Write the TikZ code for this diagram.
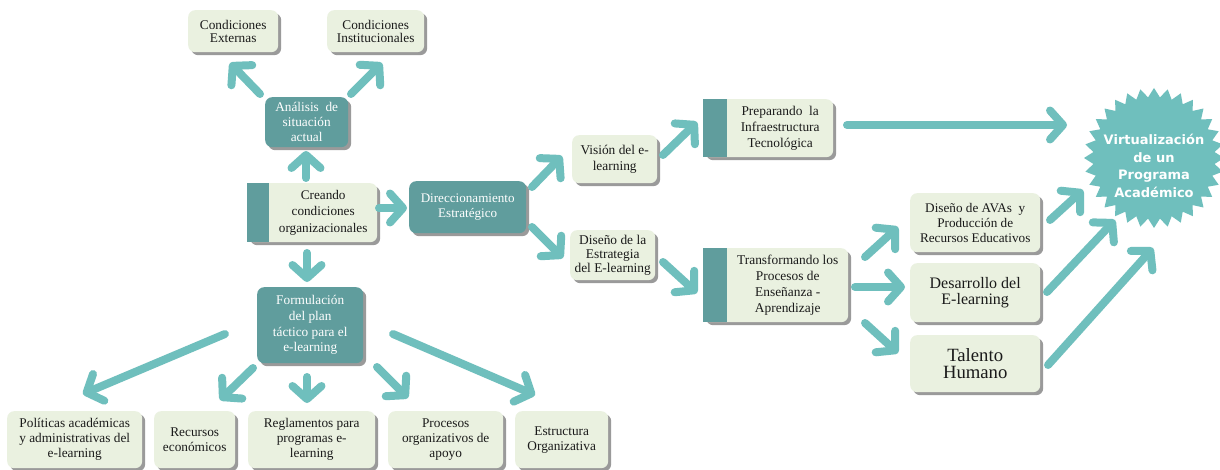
\documentclass[tikz,border=0pt]{standalone}
\usepackage{fontspec}
\setmainfont{Liberation Serif}
\newfontfamily\starfont{DejaVu Sans}
\usetikzlibrary{arrows.meta,shapes.geometric,shadows}
\definecolor{lightbox}{HTML}{EAF1E0}
\definecolor{darkbox}{HTML}{609D9D}
\definecolor{arrowc}{HTML}{6FBFBD}
\definecolor{shadowc}{HTML}{9A9A9A}
\definecolor{txtc}{HTML}{1A1A1A}
\begin{document}
\begin{tikzpicture}[x=1pt,y=-1pt,
  box/.style={rounded corners=7pt, anchor=north west, inner sep=0pt, align=center,
    drop shadow={shadow xshift=3pt, shadow yshift=-3pt, fill=shadowc, opacity=1}},
  lbox/.style={box, fill=lightbox, text=txtc},
  dbox/.style={box, fill=darkbox, text=white},
  bar/.style={fill=darkbox},
  ttext/.style={align=center, text=txtc, inner sep=0pt},
  arr/.style={draw=arrowc, line width=8pt, line cap=round,
    -{Straight Barb[round,length=13pt,width=29pt]}},
  fa/.style={font=\fontsize{13.3}{12.8}\selectfont},
  fb/.style={font=\fontsize{13.3}{15}\selectfont},
  fc/.style={font=\fontsize{13.4}{16}\selectfont},
  fd/.style={font=\fontsize{13.4}{14}\selectfont}
]
\useasboundingbox[fill=white] (0,0) rectangle (1220,470);

% top boxes
\node[lbox,fa,minimum width=90,minimum height=42] (cext) at (188,10) {Condiciones\\Externas};
\node[lbox,fa,minimum width=97,minimum height=42] (cinst) at (327,10) {Condiciones\\Institucionales};
\node[dbox,fb,minimum width=83,minimum height=50] (ana) at (265,97) {Análisis~ de\\situación\\actual};

% creando (split)
\node[lbox,minimum width=130,minimum height=59] (cre) at (247,183) {};
\fill[bar] (cre.north west) rectangle ([xshift=22pt]cre.south west);
\node[ttext,font=\fontsize{13.2}{16.5}\selectfont] (creT) at ([xshift=11pt]cre.center) {Creando\\condiciones\\organizacionales};

\node[dbox,font=\fontsize{13.1}{15}\selectfont,minimum width=117,minimum height=52] (dir) at (409,181) {Direccionamiento\\Estratégico};
\node[dbox,font=\fontsize{13.3}{15.7}\selectfont,minimum width=106,minimum height=76] (form) at (257,287) {Formulación\\del plan\\táctico para el\\e-learning};

\node[lbox,fc,minimum width=85,minimum height=48] (vis) at (572,135) {Visión del e-\\learning};
\node[lbox,fd,minimum width=85,minimum height=50] (dis) at (570,230) {Diseño de la\\Estrategia\\del E-learning};

% preparando (split)
\node[lbox,minimum width=130,minimum height=58] (prep) at (703,99) {};
\fill[bar] (prep.north west) rectangle ([xshift=24pt]prep.south west);
\node[ttext,fc] (prepT) at ([xshift=12pt]prep.center) {Preparando~ la\\Infraestructura\\Tecnológica};

% transformando (split)
\node[lbox,minimum width=145,minimum height=74] (trans) at (703,248) {};
\fill[bar] (trans.north west) rectangle ([xshift=24pt]trans.south west);
\node[ttext,fc] (transT) at ([xshift=12pt]trans.center) {Transformando los\\Procesos de\\Enseñanza -\\Aprendizaje};

\node[lbox,font=\fontsize{13.2}{15}\selectfont,minimum width=130,minimum height=59] (avas) at (910,193) {Diseño de AVAs~ y\\Producción de\\Recursos Educativos};
\node[lbox,font=\fontsize{16}{15.5}\selectfont,minimum width=130,minimum height=59] (desa) at (910,263) {Desarrollo del\\E-learning};
\node[lbox,font=\fontsize{18.7}{17}\selectfont,minimum width=130,minimum height=57] (tal) at (910,335) {Talento\\Humano};

% star
\node[star, star points=32, star point ratio=1.15, minimum size=140pt, inner sep=0pt, fill=arrowc] (vir) at (1154,158) {};
\node[align=center, text=white, inner sep=0pt, font=\starfont\bfseries\fontsize{13}{17.5}\selectfont] (virT) at (1154,166) {Virtualización\\de un\\Programa\\Académico};

% bottom boxes
\node[lbox,fb,minimum width=135,minimum height=57] (pol) at (7,411) {Políticas académicas\\y administrativas del\\e-learning};
\node[lbox,fb,minimum width=81,minimum height=57] (rec) at (154,411) {Recursos\\económicos};
\node[lbox,fb,minimum width=127,minimum height=57] (reg) at (248,411) {Reglamentos para\\programas e-\\learning};
\node[lbox,fb,minimum width=115,minimum height=57] (proc) at (388,411) {Procesos\\organizativos de\\apoyo};
\node[lbox,fb,minimum width=93,minimum height=57] (est) at (515,411) {Estructura\\Organizativa};

% arrow end coordinates
\coordinate (a1s) at (260,94);   \coordinate (a1e) at (230,63);
\coordinate (a2s) at (351,94);   \coordinate (a2e) at (382,63);
\coordinate (a3s) at (306,178);  \coordinate (a3e) at (306,151);
\coordinate (a4s) at (379,208);  \coordinate (a4e) at (407,208);
\coordinate (a5s) at (307,253);  \coordinate (a5e) at (307,282);
\coordinate (a6s) at (532,187);  \coordinate (a6e) at (562,156);
\coordinate (a7s) at (532,227);  \coordinate (a7e) at (563,258);
\coordinate (a8s) at (663,155);  \coordinate (a8e) at (697,122);
\coordinate (a9s) at (663,262);  \coordinate (a9e) at (697,293);
\coordinate (a10s) at (847,125); \coordinate (a10e) at (1067,125);
\coordinate (a11s) at (865,257); \coordinate (a11e) at (898,227);
\coordinate (a12s) at (855,287); \coordinate (a12e) at (905,287);
\coordinate (a13s) at (865,323); \coordinate (a13e) at (898,353);
\coordinate (a14s) at (1050,220);\coordinate (a14e) at (1083,190);
\coordinate (a15s) at (1047,292);\coordinate (a15e) at (1115,220);
\coordinate (a16s) at (1048,365);\coordinate (a16e) at (1153,248);
\coordinate (b1s) at (225,334);  \coordinate (b1e) at (83,394);
\coordinate (b2s) at (253,368);  \coordinate (b2e) at (220,400);
\coordinate (b3s) at (307,377);  \coordinate (b3e) at (307,403);
\coordinate (b4s) at (377,367);  \coordinate (b4e) at (408,398);
\coordinate (b5s) at (393,334);  \coordinate (b5e) at (535,395);

\foreach \a in {a1,a2,a3,a4,a5,a6,a7,a8,a9,a10,a11,a12,a13,a14,a15,a16,b1,b2,b3,b4,b5}
  \draw[arr] (\a s) -- (\a e);
\end{tikzpicture}
\end{document}
